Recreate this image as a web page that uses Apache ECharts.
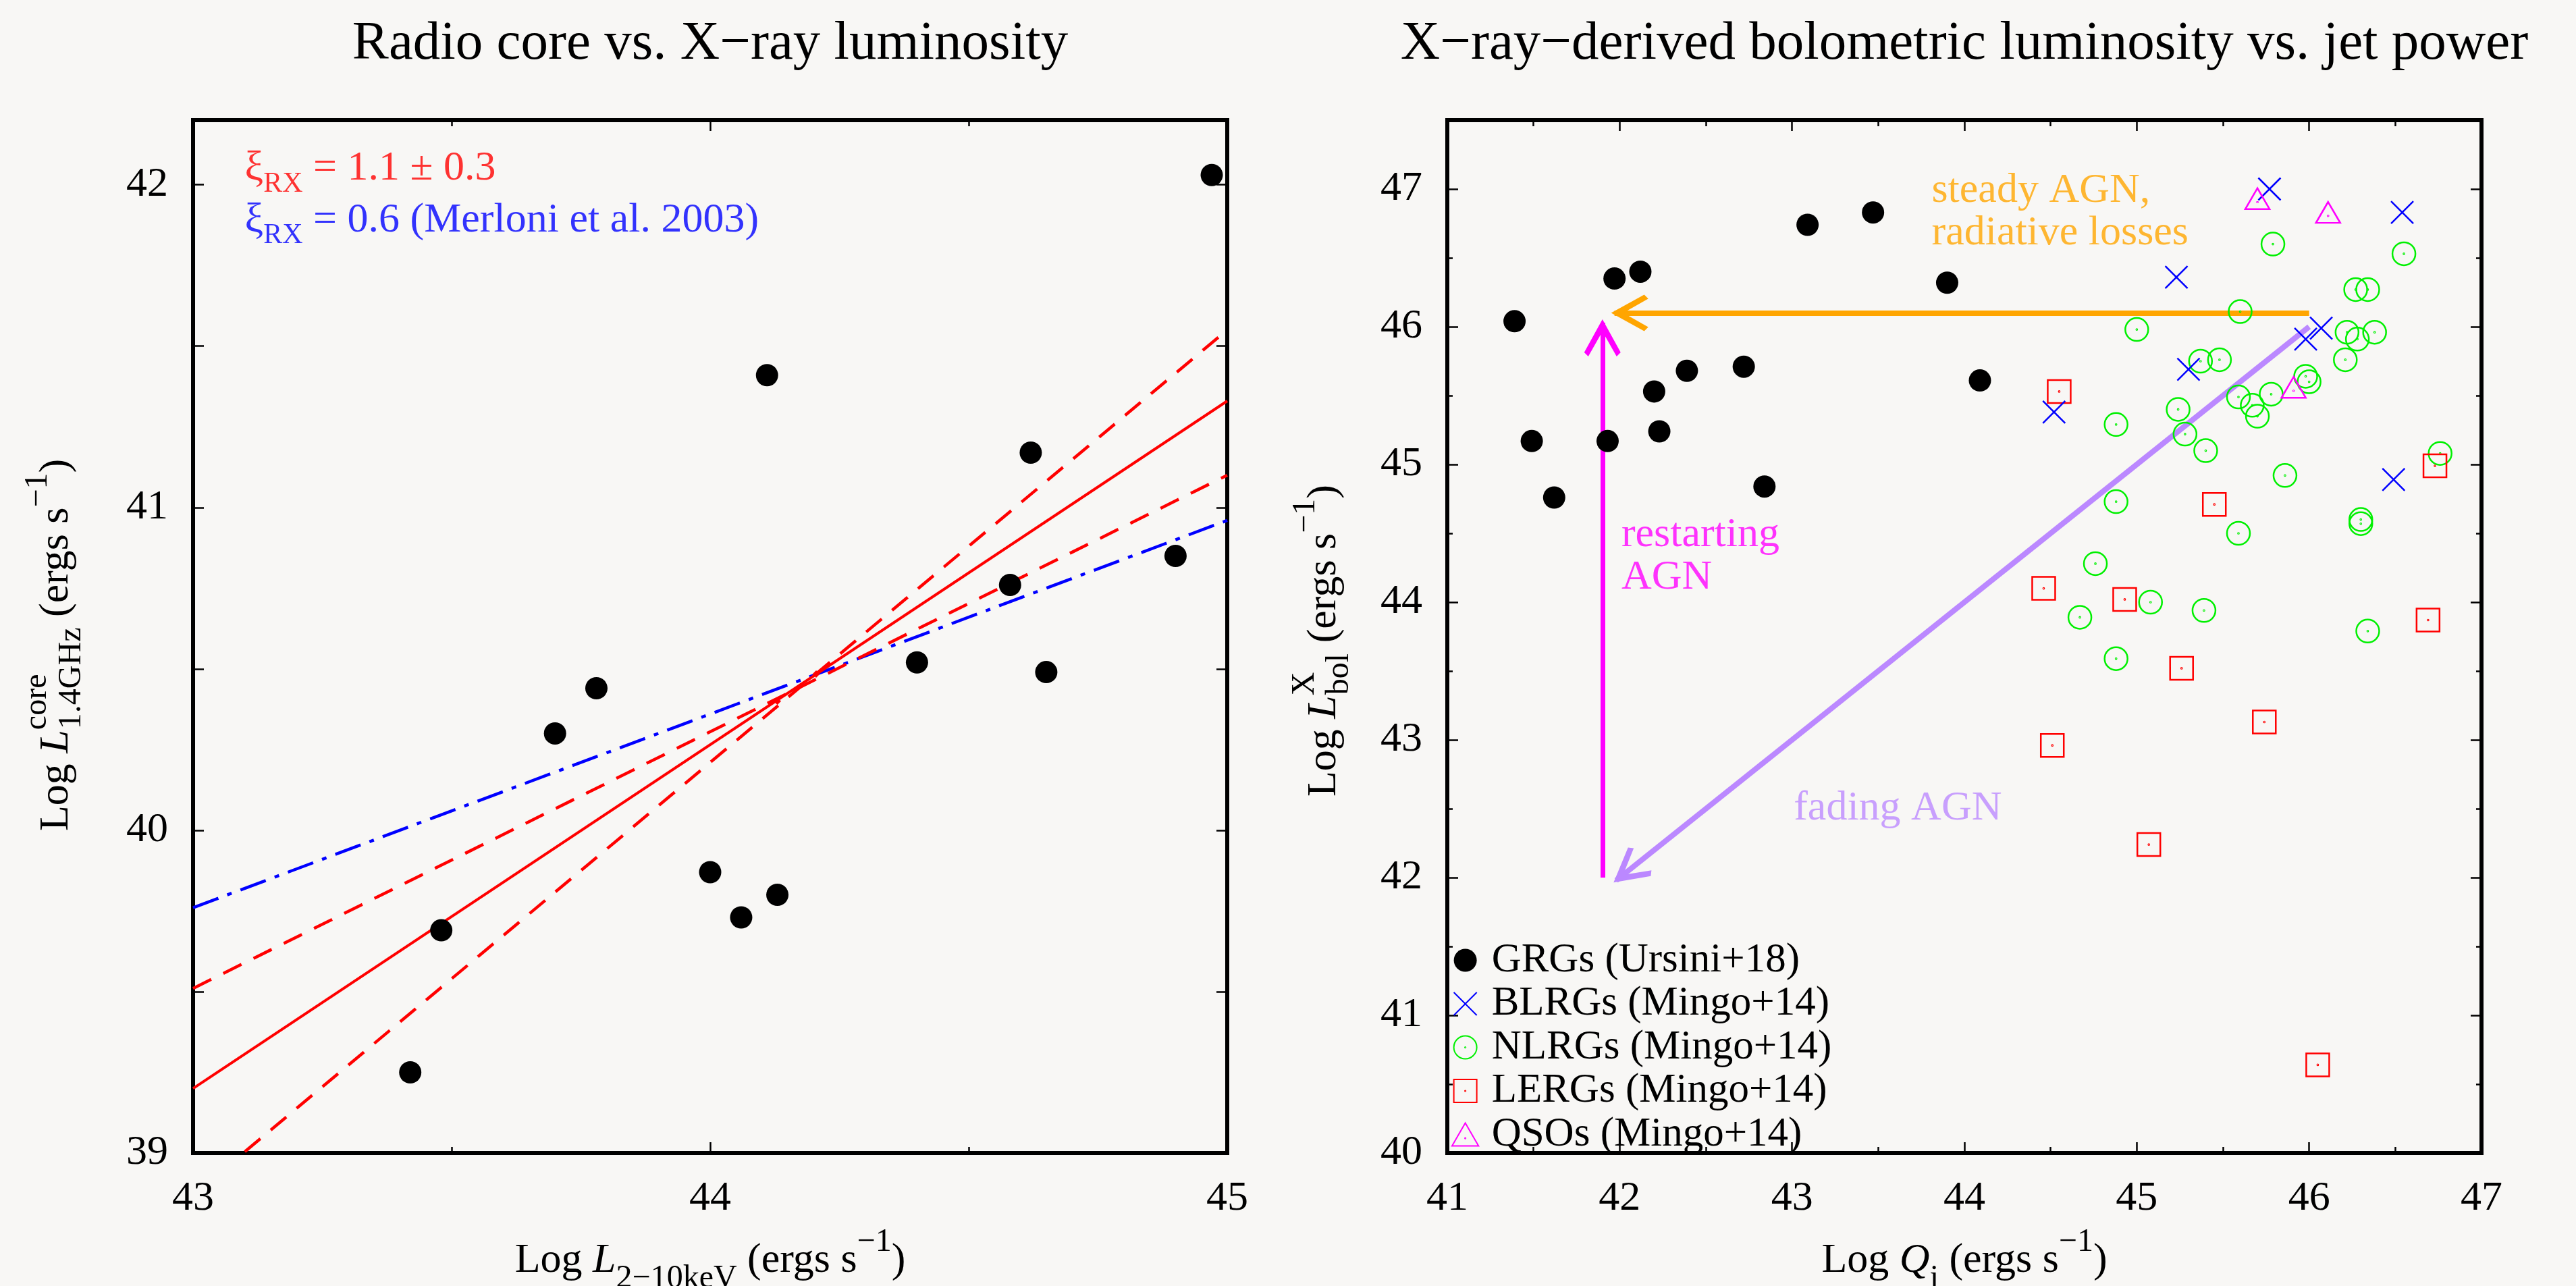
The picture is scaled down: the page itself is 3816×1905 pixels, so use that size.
<!DOCTYPE html>
<html>
<head>
<meta charset="utf-8">
<title>Radio core and bolometric luminosity of GRGs</title>
<script src="https://cdn.jsdelivr.net/npm/echarts@6/dist/echarts.min.js"></script>
<style>
  html, body { margin: 0; padding: 0; background: #f8f7f5; }
  #chart { width: 3816px; height: 1905px; }
</style>
</head>
<body>
<div id="chart"></div>
<script>
const SERIF = '"Liberation Serif", "DejaVu Serif", serif';
const BLACK = '#000000';

// left panel: radio core vs X-ray luminosity (GRGs)
const grgLx = [43.42, 43.48, 43.70, 43.78, 44.00, 44.06, 44.13, 44.11, 44.40, 44.58, 44.62, 44.65, 44.90, 44.97];
const grgLcore = [39.25, 39.69, 40.30, 40.44, 39.87, 39.73, 39.80, 41.41, 40.52, 40.76, 41.17, 40.49, 40.85, 42.03];

// fitted relations, values read at x = 43 and x = 45
const fitX = [43, 45];
const fitBest = [39.20, 41.33];
const fitSteep = [38.87, 41.55];
const fitFlat = [39.51, 41.10];
const merloniLine = [39.76, 40.96];
const pivotX = [44.13, 44.205];
const pivotY = [40.40, 40.484];

// right panel: bolometric luminosity vs jet power
const grgQ = [41.39, 41.97, 42.12, 41.49, 41.62, 41.93, 42.20, 42.23, 42.39, 42.72, 42.84, 43.09, 43.47, 43.90, 44.09];
const grgLbol = [46.04, 46.35, 46.40, 45.17, 44.76, 45.17, 45.53, 45.24, 45.68, 45.71, 44.84, 46.74, 46.83, 46.32, 45.61];

const blrgQ = [45.77, 46.54, 45.23, 46.07, 45.98, 45.30, 44.52, 46.49];
const blrgL = [47.00, 46.83, 46.36, 45.99, 45.91, 45.69, 45.38, 44.89];

const nlrgQ = [45.79, 46.55, 46.27, 46.34, 45.60, 45.00, 46.22, 46.38, 46.28, 45.37, 45.48, 46.21, 45.98, 46.00, 45.59, 45.78, 45.67, 45.70,
  45.24, 44.88, 45.28, 45.40, 46.76, 45.86, 44.88, 45.59, 46.30, 46.30, 44.76, 45.08, 44.67, 45.39, 46.34, 44.88];
const nlrgL = [46.60, 46.53, 46.27, 46.27, 46.11, 45.98, 45.96, 45.96, 45.91, 45.75, 45.76, 45.76, 45.64, 45.60, 45.49, 45.51, 45.43, 45.35,
  45.40, 45.29, 45.22, 45.10, 45.08, 44.92, 44.73, 44.50, 44.60, 44.57, 44.28, 44.00, 43.89, 43.94, 43.79, 43.59];

const lergQ = [44.55, 46.73, 45.45, 44.46, 44.93, 46.69, 45.26, 45.74, 44.51, 45.07, 46.05];
const lergL = [45.53, 44.99, 44.71, 44.10, 44.02, 43.87, 43.52, 43.13, 42.96, 42.24, 40.64];

const qsoQ = [45.70, 46.11, 45.91];
const qsoL = [46.93, 46.83, 45.56];

// evolution arrows: [start, end]
const steadyArrow = [[46.0, 46.1], [41.97, 46.1]];
const restartArrow = [[41.9, 42.0], [41.9, 46.03]];
const fadingArrow = [[46.0, 46.0], [41.98, 41.98]];

// text anchors (left edge, vertical middle)
const noteFit = [43.10, 42.05];
const noteMerloni = [43.10, 41.89];
const noteSteady = [43.81, 46.83];
const noteRestart = [42.01, 44.33];
const noteFading = [43.01, 42.50];

const legendNames = ['GRGs (Ursini+18)', 'BLRGs (Mingo+14)', 'NLRGs (Mingo+14)', 'LERGs (Mingo+14)', 'QSOs (Mingo+14)'];

const zip = (xs, ys) => xs.map((x, i) => [x, ys[i]]);

// symbols
const OPEN_CIRCLE = 'path://M10,0A10,10 0 1 1 -10,0A10,10 0 1 1 10,0Z M0.35,0A0.35,0.35 0 1 1 -0.35,0A0.35,0.35 0 1 1 0.35,0Z';
const OPEN_SQUARE = 'path://M-10,-10L10,-10L10,10L-10,10Z M0.35,0A0.35,0.35 0 1 1 -0.35,0A0.35,0.35 0 1 1 0.35,0Z';
const OPEN_TRIANGLE = 'path://M0,-10L11.55,10L-11.55,10Z M0.35,3.3A0.35,0.35 0 1 1 -0.35,3.3A0.35,0.35 0 1 1 0.35,3.3Z';
const CROSS = 'path://M-10,-10L10,10M10,-10L-10,10';
// open arrow head pointing up, tip at the centre of its box
const CHEVRON = 'path://M0,-50L0.01,-50Z M0,-5L27,44L21,50L0,13L-21,50L-27,44Z';

const tickStyle = { color: BLACK, width: 2.5 };
const labelStyle = { fontFamily: SERIF, fontSize: 62, color: BLACK };
const richName = {
  it: { fontFamily: SERIF, fontSize: 62, fontStyle: 'italic', color: BLACK },
  sub: { fontFamily: SERIF, fontSize: 48, color: BLACK, padding: [53, 0, 0, 0] },
  sup: { fontFamily: SERIF, fontSize: 48, color: BLACK, padding: [0, 0, 55, 0] }
};
const nameStyle = { fontFamily: SERIF, fontSize: 62, color: BLACK, rich: richName };
// rich styles for the vertical titles (zrender text style names)
const richVertical = {
  it: { fontFamily: SERIF, fontSize: 62, fontStyle: 'italic', fill: BLACK },
  sub: { fontFamily: SERIF, fontSize: 48, fill: BLACK, padding: [45, 0, 0, 0] },
  sup: { fontFamily: SERIF, fontSize: 48, fill: BLACK, padding: [0, 0, 55, 0] },
  supw: { fontFamily: SERIF, fontSize: 48, fill: BLACK, padding: [0, 0, 58, 0], width: 1 }
};
const intLabel = (v) => (Math.abs(v - Math.round(v)) < 1e-6 ? String(Math.round(v)) : '');

function xAxisFor(grid, min, max, pos, name) {
  return {
    type: 'value', gridIndex: grid, position: pos, min: min, max: max, interval: 1,
    axisLine: { show: false, onZero: false },
    splitLine: { show: false },
    axisTick: { show: true, inside: true, length: 16, lineStyle: tickStyle },
    minorTick: { show: true, splitNumber: 2, length: 9, lineStyle: tickStyle },
    axisLabel: Object.assign({ show: pos === 'bottom', margin: 37 }, labelStyle),
    name: name || '', nameLocation: 'middle', nameGap: 108, nameMoveOverlap: false,
    nameTextStyle: nameStyle
  };
}

function yAxisFor(grid, min, max, pos, interval, tickLen, showLabel) {
  return {
    type: 'value', gridIndex: grid, position: pos, min: min, max: max, interval: interval,
    axisLine: { show: false, onZero: false },
    splitLine: { show: false },
    axisTick: { show: true, inside: true, length: tickLen, lineStyle: tickStyle },
    axisLabel: Object.assign({ show: showLabel, margin: 37, formatter: intLabel }, labelStyle)
  };
}

function fitLine(name, ys, color, width, type) {
  return {
    name: name, type: 'line', xAxisIndex: 0, yAxisIndex: 0,
    data: zip(fitX, ys), symbol: 'none', showSymbol: false, silent: true, clip: true, z: 2,
    lineStyle: { color: color, width: width, type: type }
  };
}

function openMarks(name, xs, ys, symbol, size, color) {
  return {
    name: name, type: 'scatter', xAxisIndex: 2, yAxisIndex: 2,
    data: zip(xs, ys), symbol: symbol, symbolSize: size, z: 4,
    itemStyle: { color: 'rgba(0,0,0,0)', borderColor: color, borderWidth: 2.5, opacity: 1 }
  };
}

function arrow(coords, color, width) {
  return {
    type: 'lines', coordinateSystem: 'cartesian2d', xAxisIndex: 2, yAxisIndex: 2,
    polyline: false, silent: true, z: 2,
    symbol: ['none', CHEVRON], symbolSize: [[54, 100], [54, 100]],
    lineStyle: { color: color, width: width, opacity: 1, curveness: 0 },
    data: [{ coords: coords }]
  };
}

function note(xi, yi, point, text, color, rich) {
  return {
    type: 'scatter', xAxisIndex: xi, yAxisIndex: yi, symbolSize: 0, silent: true, z: 6,
    data: [point],
    label: {
      show: true, position: 'right', distance: 0, formatter: text,
      color: color, fontFamily: SERIF, fontSize: 62, lineHeight: 63, rich: rich || {}
    }
  };
}

const xiRich = (color) => ({
  g: { fontFamily: SERIF, fontSize: 62, color: color },
  s: { fontFamily: SERIF, fontSize: 42, color: color, padding: [46, 0, 0, 0] },
  n: { fontFamily: SERIF, fontSize: 62, color: color }
});

function verticalTitle(x, y, text) {
  return {
    type: 'text', x: x, y: y, rotation: Math.PI / 2, silent: true,
    style: {
      text: text, fontFamily: SERIF, fontSize: 62, fill: BLACK,
      align: 'left', verticalAlign: 'middle', rich: richVertical
    }
  };
}

const chart = echarts.init(document.getElementById('chart'));

chart.setOption({
  backgroundColor: '#f8f7f5',
  animation: false,
  title: [
    {
      text: 'Radio core vs. X\u2212ray luminosity', left: 1052, top: 25, textAlign: 'center', padding: 0,
      textStyle: { fontFamily: SERIF, fontSize: 81, fontWeight: 'normal', color: BLACK }
    },
    {
      text: 'X\u2212ray\u2212derived bolometric luminosity vs. jet power', left: 2910, top: 25, textAlign: 'center', padding: 0,
      textStyle: { fontFamily: SERIF, fontSize: 81, fontWeight: 'normal', color: BLACK }
    }
  ],
  graphic: [
    verticalTitle(84, 1231, 'Log {it|L}{supw|core}{sub|1.4GHz} (ergs s{sup|\u22121})'),
    verticalTitle(1962, 1180, 'Log {it|L}{supw|X}{sub|bol} (ergs s{sup|\u22121})')
  ],
  legend: {
    data: legendNames, orient: 'vertical', left: 2150, top: 1392, padding: 0,
    itemWidth: 68, itemHeight: 34, itemGap: 3.5, selectedMode: false,
    textStyle: { fontFamily: SERIF, fontSize: 61, color: BLACK }
  },
  grid: [
    { left: 286, top: 178, width: 1532, height: 1530, show: true, borderColor: BLACK, borderWidth: 6,
      backgroundColor: 'transparent', containLabel: false, outerBoundsMode: 'none' },
    { left: 2144, top: 178, width: 1532, height: 1530, show: true, borderColor: BLACK, borderWidth: 6,
      backgroundColor: 'transparent', containLabel: false, outerBoundsMode: 'none' }
  ],
  xAxis: [
    xAxisFor(0, 43, 45, 'bottom', 'Log {it|L}{sub|2\u221210keV} (ergs s{sup|\u22121})'),
    xAxisFor(0, 43, 45, 'top'),
    xAxisFor(1, 41, 47, 'bottom', 'Log {it|Q}{sub|j} (ergs s{sup|\u22121})'),
    xAxisFor(1, 41, 47, 'top')
  ],
  yAxis: [
    yAxisFor(0, 39, 42.2, 'left', 0.5, 16, true),
    yAxisFor(0, 39, 42.2, 'right', 0.5, 16, false),
    yAxisFor(1, 40, 47.5, 'left', 1, 16, true),
    yAxisFor(1, 40, 47.5, 'right', 1, 16, false),
    yAxisFor(1, 40, 47.5, 'left', 0.5, 8, false),
    yAxisFor(1, 40, 47.5, 'right', 0.5, 8, false)
  ],
  series: [
    // left panel
    fitLine('Merloni et al. 2003', merloniLine, '#0000ff', 4.5, [40, 14, 7, 14]),
    fitLine('fit upper', fitSteep, '#ff0000', 4.5, [30, 20]),
    fitLine('fit lower', fitFlat, '#ff0000', 4.5, [30, 20]),
    fitLine('best fit', fitBest, '#ff0000', 4),
    {
      name: 'pivot', type: 'scatter', xAxisIndex: 0, yAxisIndex: 0, silent: true, z: 3,
      data: zip(pivotX, pivotY), symbol: 'diamond', symbolSize: 11, itemStyle: { color: '#ff0000', opacity: 1 }
    },
    {
      name: 'GRG cores', type: 'scatter', xAxisIndex: 0, yAxisIndex: 0, z: 4,
      data: zip(grgLx, grgLcore), symbol: 'circle', symbolSize: 33, itemStyle: { color: BLACK, opacity: 1 }
    },
    note(0, 0, noteFit, '{g|\u03be}{s|RX}{n| = 1.1 \u00b1 0.3}', '#ff0000', xiRich('#ff0000')),
    note(0, 0, noteMerloni, '{g|\u03be}{s|RX}{n| = 0.6 (Merloni et al. 2003)}', '#0000ff', xiRich('#0000ff')),

    // right panel
    arrow(steadyArrow, '#ffa500', 8),
    arrow(restartArrow, '#ff00ff', 7),
    arrow(fadingArrow, '#bb88ff', 8),
    openMarks('NLRGs (Mingo+14)', nlrgQ, nlrgL, OPEN_CIRCLE, 34, '#00f000'),
    openMarks('LERGs (Mingo+14)', lergQ, lergL, OPEN_SQUARE, 34, '#ff0000'),
    openMarks('BLRGs (Mingo+14)', blrgQ, blrgL, CROSS, 33, '#0000ff'),
    openMarks('QSOs (Mingo+14)', qsoQ, qsoL, OPEN_TRIANGLE, [36, 31], '#ff00ff'),
    {
      name: 'GRGs (Ursini+18)', type: 'scatter', xAxisIndex: 2, yAxisIndex: 2, z: 5,
      data: zip(grgQ, grgLbol), symbol: 'circle', symbolSize: 33, itemStyle: { color: BLACK, opacity: 1 }
    },
    note(2, 2, noteSteady, 'steady AGN,\nradiative losses', '#ffa500'),
    note(2, 2, noteRestart, 'restarting\nAGN', '#ff00ff'),
    note(2, 2, noteFading, 'fading AGN', '#bb88ff')
  ]
});
</script>
</body>
</html>
